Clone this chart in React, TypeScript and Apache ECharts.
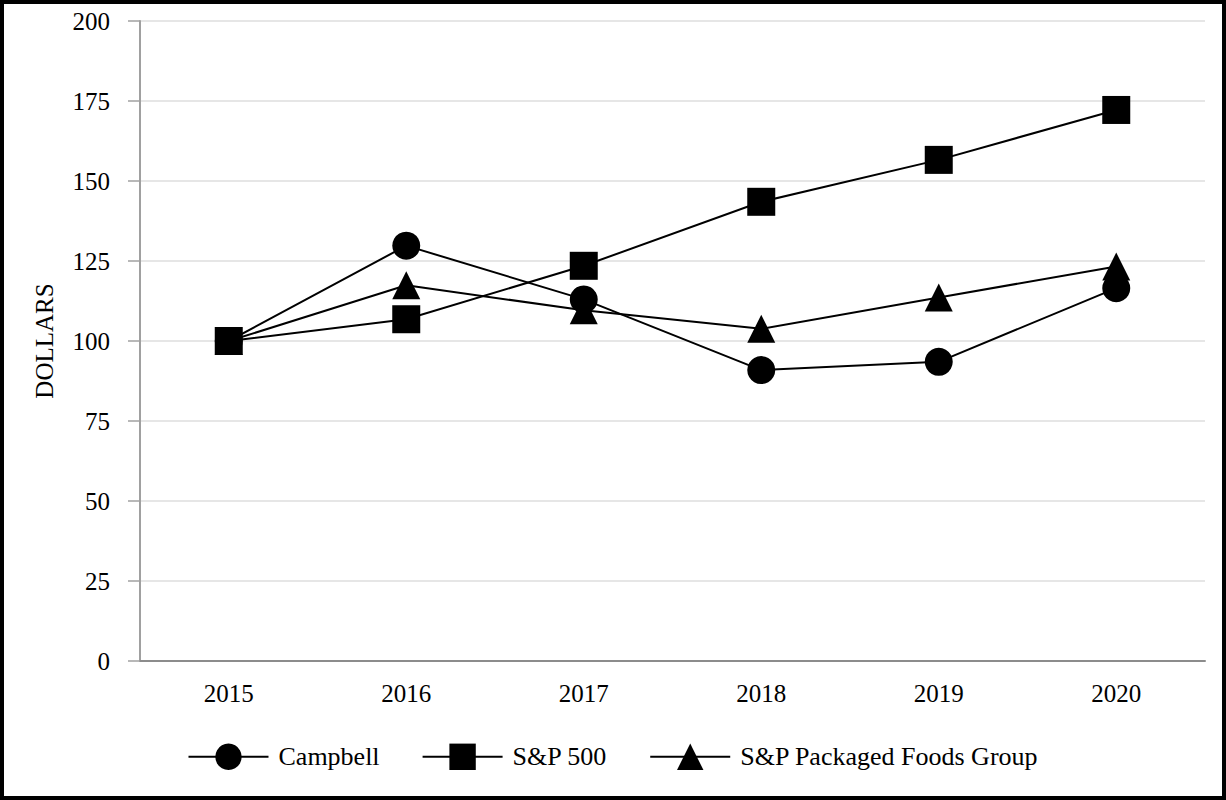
import React, { useEffect, useRef } from "react";
import * as echarts from "echarts";

const years = ["2015", "2016", "2017", "2018", "2019", "2020"];
const campbell = [100, 129.8, 113.0, 90.9, 93.5, 116.5];
const sp500 = [100, 106.8, 123.5, 143.5, 156.6, 172.2];
const packagedFoods = [100, 117.4, 109.6, 103.8, 113.6, 123.3];
const seriesNames = ["Campbell", "S&P 500", "S&P Packaged Foods Group"];

const FONT = "'Liberation Serif', 'Times New Roman', serif";

export default function App() {
  const ref = useRef<HTMLDivElement>(null);
  useEffect(() => {
    document.body.style.margin = "0";
    const chart = echarts.init(ref.current!, undefined, { renderer: "svg" });
    const lineStyle = { color: "#000", width: 2 };
    chart.setOption({
      animation: false,
      backgroundColor: "#fff",
      textStyle: { fontFamily: FONT, color: "#000" },
      grid: { left: 140, right: 21, top: 21, bottom: 139 },
      graphic: [
        {
          type: "rect",
          shape: { x: 2, y: 2, width: 1222, height: 796 },
          style: { fill: "none", stroke: "#000", lineWidth: 4 },
          z: 100,
        },
      ],
      legend: {
        bottom: 25,
        left: "center",
        itemWidth: 80,
        itemHeight: 33,
        itemGap: 42,
        textStyle: { fontFamily: FONT, fontSize: 26, color: "#000", padding: [0, 0, 0, 5] },
        data: seriesNames,
      },
      xAxis: {
        type: "category",
        data: years,
        boundaryGap: true,
        axisLine: { lineStyle: { color: "#8c8c8c", width: 2 } },
        axisTick: { alignWithLabel: true, length: 10, lineStyle: { color: "#a0a0a0", width: 1.5 } },
        axisLabel: { fontFamily: FONT, fontSize: 25, color: "#000", margin: 20 },
        splitLine: { show: false },
      },
      yAxis: {
        type: "value",
        min: 0,
        max: 200,
        interval: 25,
        name: "DOLLARS",
        nameLocation: "middle",
        nameGap: 83,
        nameRotate: 90,
        nameTextStyle: { fontFamily: FONT, fontSize: 25, color: "#000" },
        axisLine: { show: true, lineStyle: { color: "#a0a0a0", width: 2 } },
        axisTick: { show: true, length: 12, lineStyle: { color: "#a0a0a0", width: 1.5 } },
        axisLabel: { fontFamily: FONT, fontSize: 25, color: "#000", margin: 30 },
        splitLine: { lineStyle: { color: "#e6e6e6", width: 2 } },
      },
      series: [
        {
          name: seriesNames[0],
          type: "line",
          data: campbell,
          symbol: "circle",
          symbolSize: 28,
          itemStyle: { color: "#000" },
          lineStyle,
          z: 4,
        },
        {
          name: seriesNames[1],
          type: "line",
          data: sp500,
          symbol: "rect",
          symbolSize: 28,
          itemStyle: { color: "#000" },
          lineStyle,
          z: 3,
        },
        {
          name: seriesNames[2],
          type: "line",
          data: packagedFoods,
          symbol: "triangle",
          symbolSize: 28,
          itemStyle: { color: "#000" },
          lineStyle,
          z: 2,
        },
      ],
    });
    return () => chart.dispose();
  }, []);
  return (
    <div style={{ position: "absolute", left: 0, top: 0, width: 1226, height: 800 }}>
      <div ref={ref} style={{ width: 1226, height: 800 }} />
    </div>
  );
}
